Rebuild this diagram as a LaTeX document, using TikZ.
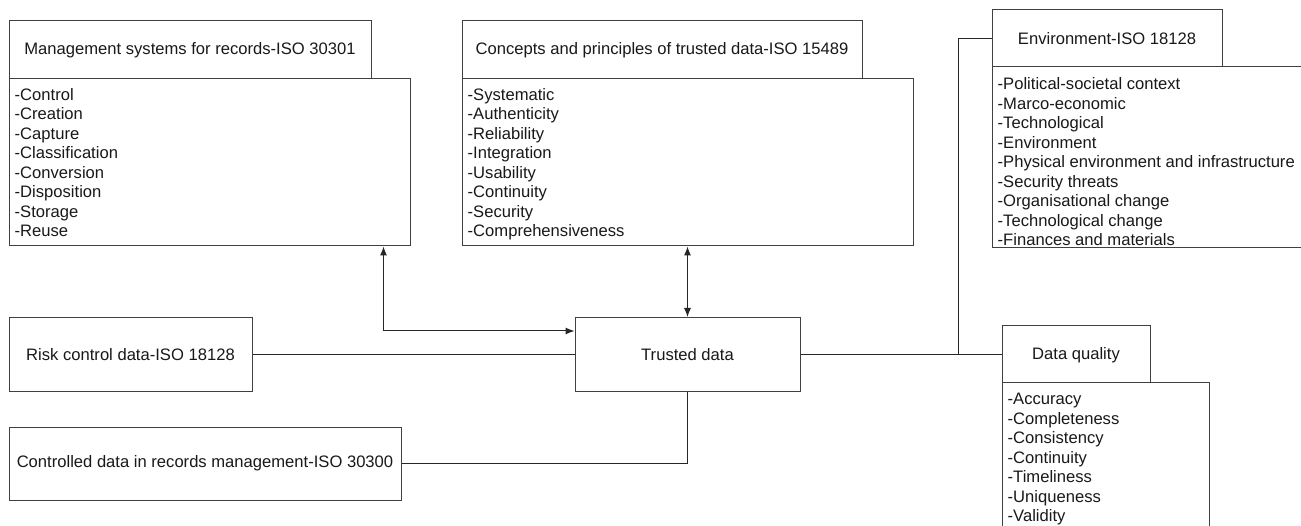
\documentclass[tikz,border=0pt]{standalone}
\usepackage{fontspec}
\setmainfont{Liberation Sans}
\usetikzlibrary{arrows.meta}
\begin{document}
\begin{tikzpicture}[x=1pt,y=-1pt,
  box/.style={draw=black!75,line width=1pt,inner sep=0pt,fill=white,align=center},
  lst/.style={anchor=north west,inner sep=0pt,align=left},
  conn/.style={draw=black!85,line width=1pt},
  arr/.style={conn,{Latex[length=9pt,width=7pt]}-{Latex[length=9pt,width=7pt]}},
  every node/.append style={font=\fontsize{16.6}{19.5}\selectfont,text=black!90}]
\clip (0,0) rectangle (1301,526);
\fill[white] (0,0) rectangle (1301,526);
% headers and bodies
\node[box,minimum width=362pt,minimum height=59pt] (mh) at (190,50) {Management systems for records-ISO 30301};
\node[box,minimum width=401pt,minimum height=167pt] (mb) at (209.5,162.5) {};
\node[lst] at ([xshift=6pt,yshift=-7.9pt]mb.north west) {\strut-Control\\-Creation\\-Capture\\-Classification\\-Conversion\\-Disposition\\-Storage\\-Reuse};
\node[box,minimum width=400pt,minimum height=59pt] (ch) at (662,50) {Concepts and principles of trusted data-ISO 15489};
\node[box,minimum width=451pt,minimum height=167pt] (cb) at (687.5,162.5) {};
\node[lst] at ([xshift=6pt,yshift=-7.9pt]cb.north west) {\strut-Systematic\\-Authenticity\\-Reliability\\-Integration\\-Usability\\-Continuity\\-Security\\-Comprehensiveness};
\node[box,minimum width=230pt,minimum height=58pt] (eh) at (1107,38.5) {Environment-ISO 18128};
\node[box,minimum width=320pt,minimum height=181pt] (eb) at (1152,157.5) {};
\node[lst] at ([xshift=6pt,yshift=-9.4pt]eb.north west) {\strut-Political-societal context\\-Marco-economic\\-Technological\\-Environment\\-Physical environment and infrastructure\\-Security threats\\-Organisational change\\-Technological change\\-Finances and materials};
\node[box,minimum width=243pt,minimum height=74pt] (risk) at (130.5,354.5) {Risk control data-ISO 18128};
\node[box,minimum width=392pt,minimum height=73pt] (ctrl) at (205,463.5) {Controlled data in records management-ISO 30300};
\node[box,minimum width=225pt,minimum height=74pt] (td) at (687.5,354.5) {Trusted data};
\node[box,minimum width=148pt,minimum height=59pt] (dh) at (1076,355) {Data quality};
\node[box,minimum width=207pt,minimum height=157pt] (db) at (1105.5,461.5) {};
\node[lst] at ([xshift=6pt,yshift=-8.4pt]db.north west) {\strut-Accuracy\\-Completeness\\-Consistency\\-Continuity\\-Timeliness\\-Uniqueness\\-Validity};
% connectors
\coordinate (j) at (958,354);
\draw[arr] ([xshift=-27pt]mb.south east) |- ([yshift=-14pt]td.north west);
\draw[arr] (cb.south -| td.north) -- (td.north);
\draw[conn] (risk.east) -- (td.west |- risk.east);
\draw[conn] (ctrl.east) -| (td.south);
\draw[conn] (td.east) -- (td.east -| dh.west);
\draw[conn] (eh.west) -| (j);
\end{tikzpicture}
\end{document}
